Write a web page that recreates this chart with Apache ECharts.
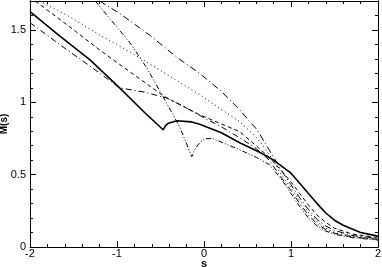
<!DOCTYPE html>
<html><head><meta charset="utf-8">
<script src="https://cdn.jsdelivr.net/npm/echarts@6/dist/echarts.min.js"></script>
<style>html,body{margin:0;padding:0;background:#fff}#c{width:382px;height:267px}</style>
</head><body><div id="c"></div>
<script>
// s range and ticks
const xRange = [-2, 2];
const yRange = [0, 1.7];
const xMajor = 1;
const yMajor = 0.5;
const yMinor = 0.1;

// curves: [s, M(s)]
const solidCurve = [[-2,1.626],[-1.66,1.459],[-1.31,1.293],[-0.97,1.1],[-0.68,0.928],[-0.47,0.81],[-0.44,0.84],[-0.41,0.855],[-0.31,0.872],[-0.15,0.865],[-0.05,0.848],[0.2,0.79],[0.41,0.72],[0.64,0.655],[0.8,0.6],[0.9,0.555],[1.0,0.51],[1.1,0.44],[1.2,0.37],[1.3,0.3],[1.4,0.235],[1.5,0.185],[1.6,0.15],[1.8,0.1],[2,0.075]];
const lowerDashDot = [[-2,1.55],[-1.66,1.4],[-1.31,1.25],[-0.97,1.1],[-0.68,1.07],[-0.43,1.03],[-0.2,0.96],[0.01,0.89],[0.2,0.83],[0.41,0.755],[0.6,0.68],[0.75,0.6],[0.9,0.47],[1.0,0.39],[1.1,0.3],[1.2,0.22],[1.3,0.16],[1.4,0.12],[1.5,0.095],[1.7,0.07],[2,0.052]];
const upperDashDot = [[-1.2,1.7],[-0.97,1.614],[-0.62,1.462],[-0.31,1.31],[-0.05,1.2],[0.2,1.075],[0.41,0.948],[0.61,0.81],[0.75,0.67],[0.9,0.52],[1.0,0.43],[1.1,0.34],[1.2,0.26],[1.3,0.19],[1.4,0.145],[1.5,0.115],[1.7,0.08],[2,0.06]];
const dottedCurve = [[-1.89,1.7],[-1.54,1.59],[-1.2,1.466],[-0.85,1.348],[-0.51,1.224],[-0.05,1.052],[0.41,0.866],[0.6,0.76],[0.75,0.64],[0.9,0.49],[1.0,0.41],[1.1,0.32],[1.2,0.24],[1.3,0.175],[1.4,0.13],[1.5,0.1],[1.7,0.075],[2,0.055]];
const dashedCurve = [[-1.94,1.7],[-1.54,1.52],[-1.2,1.362],[-0.85,1.21],[-0.45,1.038],[-0.05,0.914],[0.41,0.797],[0.6,0.7],[0.75,0.62],[0.9,0.52],[1.0,0.45],[1.1,0.37],[1.2,0.29],[1.3,0.22],[1.4,0.17],[1.5,0.13],[1.7,0.09],[2,0.065]];
const steepCurve = [[-1.25,1.7],[-0.85,1.41],[-0.66,1.24],[-0.47,1.038],[-0.28,0.831],[-0.14,0.624],[-0.1,0.68],[-0.05,0.72],[0.01,0.748],[0.1,0.75],[0.41,0.672],[0.6,0.62],[0.75,0.57],[0.9,0.46],[1.0,0.37],[1.1,0.28],[1.2,0.2],[1.3,0.145],[1.4,0.11],[1.5,0.088],[1.7,0.065],[2,0.048]];

const font = 'Liberation Sans, Arial, sans-serif';
const black = '#000';
const lineAx = {show:true, onZero:false, lineStyle:{color:black, width:1}};

function xAxisDef(pos, labels){
  return {type:'value', position:pos, min:xRange[0], max:xRange[1], interval:xMajor,
    axisLine:lineAx, splitLine:{show:false},
    axisTick:{show:true, inside:true, length:6, lineStyle:{color:black}},
    minorTick:{show:true, splitNumber:5, length:3, lineStyle:{color:black}},
    axisLabel:{show:labels, color:black, fontFamily:font, fontSize:11, margin:1},
    name: labels ? 's' : '', nameLocation:'middle', nameGap:11, nameMoveOverlap:false,
    nameTextStyle:{color:black, fontFamily:font, fontSize:11, fontWeight:'bold'}};
}
function yAxisDef(pos, major, labels){
  return {type:'value', position:pos, min:yRange[0], max:yRange[1], interval: major ? yMajor : yMinor,
    axisLine:lineAx, splitLine:{show:false},
    axisTick:{show:true, inside:true, length: major ? 6 : 3, lineStyle:{color:black}},
    axisLabel:{show:labels, color:black, fontFamily:font, fontSize:11, margin:4, showMaxLabel:false},
    name: labels ? 'M(s)' : '', nameLocation:'middle', nameGap:21, nameMoveOverlap:false,
    nameTextStyle:{color:black, fontFamily:font, fontSize:10, fontWeight:'bold'}};
}

function ser(data, type, width){
  return {type:'line', data:data, showSymbol:false, symbol:'none', xAxisIndex:0, yAxisIndex:0,
    lineStyle:{color:black, width:width||1, type:type}, animation:false, clip:true};
}

const chart = echarts.init(document.getElementById('c'), null, {renderer:'canvas'});
chart.setOption({
  animation:false,
  backgroundColor:'#fff',
  grid:{left:30, right:4, top:1, bottom:20, containLabel:false, outerBoundsMode:'none'},
  xAxis:[xAxisDef('bottom', true), xAxisDef('top', false)],
  yAxis:[yAxisDef('left', true, true), yAxisDef('right', true, false), yAxisDef('left', false, false), yAxisDef('right', false, false)],
  series:[
    ser(solidCurve, 'solid', 1.6),
    ser(lowerDashDot, [6,3,1,3], 1),
    ser(upperDashDot, [7,3,1,3], 1),
    ser(dottedCurve, [1,3], 1),
    ser(dashedCurve, [4,3], 1),
    ser(steepCurve, [5,2,1,2,1,2], 1)
  ]
});
</script></body></html>
